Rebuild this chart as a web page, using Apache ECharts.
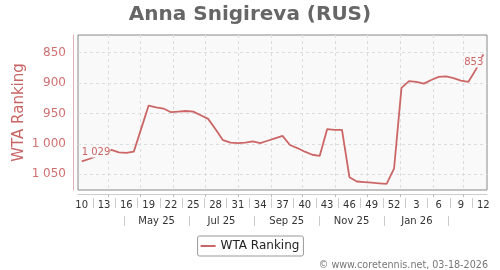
<!DOCTYPE html>
<html><head><meta charset="utf-8">
<script src="https://cdn.jsdelivr.net/npm/echarts@6/dist/echarts.min.js"></script>
<style>html,body{margin:0;padding:0;background:#fff}#c{width:500px;height:270px}</style>
</head><body><div id="c"></div>
<script>
const chartTitle = 'Anna Snigireva (RUS)';
const seriesName = 'WTA Ranking';
const footerText = '\u00a9 www.coretennis.net, 03-18-2026';
// ISO week numbers (week 10 of 2025 ... week 12 of 2026)
const weeks = ['10','11','12','13','14','15','16','17','18','19','20','21','22','23','24','25','26','27','28','29','30','31','32','33','34','35','36','37','38','39','40','41','42','43','44','45','46','47','48','49','50','51','52','1','2','3','4','5','6','7','8','9','10','11','12'];
const ranking = [1029,1025,1020,1015,1010,1014,1015,1013,975,937,940,942,948,947,946,947,953,959,976,994,998,999,998,996,999,995,991,987,1002,1007,1013,1018,1020,976,977,977,1055,1062,1063,1064,1065,1066,1041,908,897,898,901,895,890,889,892,896,898,878,853];
const yTicks = [850, 900, 950, 1000, 1050];
const yMin = 821, yMax = 1076;
const monthLabelText = ['May 25', 'Jul 25', 'Sep 25', 'Nov 25', 'Jan 26'];
const monthLabelYM = [[2025, 4], [2025, 6], [2025, 8], [2025, 10], [2026, 0]];
const firstPointDate = [2025, 2, 7];

const WEEK = 7 * 86400000;
const t0 = Date.UTC(firstPointDate[0], firstPointDate[1], firstPointDate[2]);
const pos = (y, m, d) => (Date.UTC(y, m, d) - t0) / WEEK;
const lo = -0.5, hi = weeks.length - 0.5;
const monthBounds = [];
for (let k = -1; k < 16; k++) {
  const p = pos(2025, 2 + k, 1);
  if (p > lo && p < hi) monthBounds.push(p);
}
const monthMid = (y, m) => (pos(y, m, 1) + pos(y, m + 1, 1)) / 2;
const labelPos = monthLabelYM.map(([y, m]) => monthMid(y, m));
const sepPos = monthLabelYM.map(([y, m]) => monthMid(y, m - 1));
sepPos.push(monthMid(monthLabelYM[monthLabelYM.length - 1][0], monthLabelYM[monthLabelYM.length - 1][1] + 1));
const weekSeps = [];
for (let i = 1.5; i < hi; i += 3) weekSeps.push(i);

const fmt = v => v >= 1000 ? Math.floor(v / 1000) + ' ' + String(v % 1000).padStart(3, '0') : String(v);

const lineColor = '#cc6666';
const data = ranking.map((v, i) => {
  if (i === 0) return {value: v, label: {show: true, position: 'top', align: 'left', distance: 4}};
  if (i === ranking.length - 1) return {value: v, label: {show: true, position: 'bottom', align: 'right', distance: 3}};
  return v;
});

const FF = 'DejaVu Sans';
const baseVal = {type: 'value', min: lo, max: hi, position: 'bottom', gridIndex: 0,
  axisLine: {show: false, onZero: false}, axisLabel: {show: false}, splitLine: {show: false}, axisTick: {show: false}};

const chart = echarts.init(document.getElementById('c'), null, {renderer: 'canvas'});
chart.setOption({
  animation: false,
  textStyle: {fontFamily: FF},
  title: {text: chartTitle, left: 'center', top: 0,
    textStyle: {fontSize: 20, fontWeight: 'bold', color: '#666', fontFamily: FF}},
  legend: {data: [seriesName], left: 'center', top: 236, icon: 'rect', itemWidth: 15, itemHeight: 2,
    borderColor: '#999', borderWidth: 1, borderRadius: 2, padding: [4, 4, 4, 3],
    textStyle: {fontSize: 12, color: '#222', fontFamily: FF}},
  grid: {left: 78, right: 13, top: 35, bottom: 80, show: true, backgroundColor: '#f9f9f9',
    borderColor: '#888', borderWidth: 1, containLabel: false},
  graphic: [{type: 'text', right: 12, top: 260,
    style: {text: footerText, fontSize: 9.6, fill: '#777', fontFamily: FF}}],
  xAxis: [
    {type: 'category', data: weeks, boundaryGap: true, position: 'bottom',
      axisLine: {show: false, onZero: false}, axisTick: {show: false}, splitLine: {show: false},
      axisLabel: {interval: 2, margin: 10, fontSize: 10, color: '#333', fontFamily: FF}},
    Object.assign({}, baseVal, {offset: 8,
      axisTick: {show: true, length: 10, customValues: weekSeps, lineStyle: {color: '#ccc'}}}),
    Object.assign({}, baseVal, {offset: 4,
      axisLine: {show: true, onZero: false, lineStyle: {color: '#ccc'}},
      axisTick: {show: true, length: 3, customValues: monthBounds, lineStyle: {color: '#bbb'}},
      splitLine: {show: true, lineStyle: {type: [3, 3], color: '#ddd'}}}),
    Object.assign({}, baseVal, {offset: 16,
      axisLabel: {show: true, customValues: labelPos, margin: 10, fontSize: 10, color: '#333', fontFamily: FF,
        formatter: v => { const k = labelPos.findIndex(p => Math.abs(p - v) < 1e-6); return k >= 0 ? monthLabelText[k] : ''; }}}),
    Object.assign({}, baseVal, {offset: 26,
      axisTick: {show: true, length: 10, customValues: sepPos, lineStyle: {color: '#ccc'}}})
  ],
  yAxis: [{type: 'value', inverse: true, min: yMin, max: yMax, position: 'left', offset: 5,
    name: seriesName, nameLocation: 'middle', nameGap: 46, nameMoveOverlap: false,
    nameTextStyle: {fontSize: 15, color: '#c86464', fontFamily: FF},
    axisLine: {show: true, onZero: false, lineStyle: {color: '#e0b0b0'}},
    axisTick: {show: false, customValues: yTicks},
    axisLabel: {customValues: yTicks, formatter: fmt, margin: 7, fontSize: 12, color: '#d07070', fontFamily: FF},
    splitLine: {show: true, lineStyle: {type: [3, 3], color: '#ddd'}}}],
  series: [{name: seriesName, type: 'line', xAxisIndex: 0, yAxisIndex: 0, data: data,
    color: lineColor, symbol: 'circle', symbolSize: 0, showSymbol: true, showAllSymbol: true,
    lineStyle: {color: lineColor, width: 1.8},
    itemStyle: {color: lineColor},
    label: {show: false, formatter: p => fmt(p.value), fontSize: 10, color: lineColor, fontFamily: FF,
      backgroundColor: '#f9f9f9'}}]
});
</script></body></html>
